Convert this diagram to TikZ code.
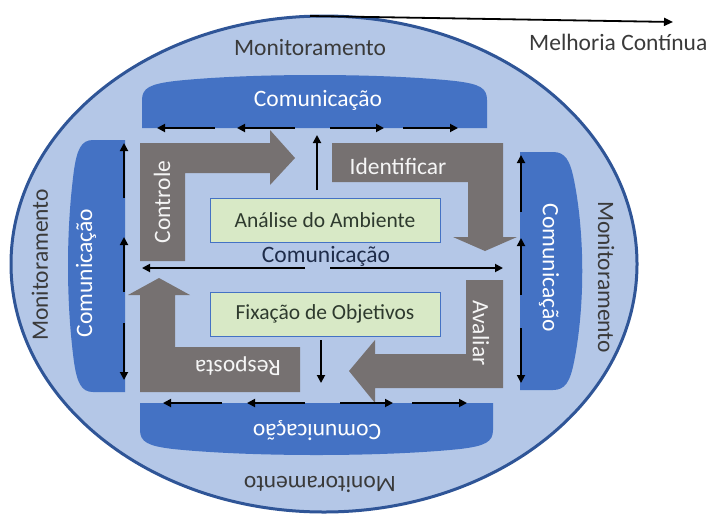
\documentclass[tikz,border=0pt]{standalone}
\usepackage{fontspec}
\setmainfont{Carlito}
\usetikzlibrary{arrows.meta}
\definecolor{ellfill}{HTML}{B4C7E7}
\definecolor{elldraw}{HTML}{2F5597}
\definecolor{commblue}{HTML}{4472C4}
\definecolor{garr}{HTML}{767171}
\definecolor{gfill}{HTML}{D8E9C6}
\definecolor{gtext}{HTML}{2E3A2E}
\definecolor{darktext}{HTML}{3A3A3A}
\definecolor{navytext}{HTML}{1F2D4A}
\newcommand\fsz{\fontsize{23.5}{26}\selectfont}
\newcommand\fszg{\fontsize{21.5}{24}\selectfont}
\tikzset{
  ell/.style={fill=ellfill, draw=elldraw, line width=3pt},
  commshape/.style={fill=commblue},
  grayarrow/.style={fill=garr},
  ar/.style={line width=1.8pt, -{Triangle[length=8pt,width=8pt]}},
  commtext/.style={text=white, font=\fsz},
  montext/.style={text=darktext, font=\fsz},
  graytext/.style={text=white!92!gray, font=\fsz},
  gbox/.style={fill=gfill, draw=commblue, line width=1pt, minimum width=230pt, minimum height=44pt, inner sep=0pt, text=gtext, font=\fszg},
}
\begin{document}
\begin{tikzpicture}[x=1pt,y=-1pt]
\useasboundingbox (0,0) rectangle (708,517);
% outer ellipse
\draw[ell] (324,264) ellipse [x radius=313, y radius=248];
% communication shapes
\fill[commshape] (142,128) -- (142,100) .. controls (142,88) and (150,84) .. (175,81) .. controls (250,73) and (380,73) .. (455,81) .. controls (480,84) and (487,88) .. (487,100) -- (487,128) -- cycle;
\fill[commshape] (140,403) -- (140,430) .. controls (140,442) and (148,446) .. (173,449) .. controls (250,457) and (383,457) .. (460,449) .. controls (485,446) and (493,442) .. (493,430) -- (493,403) -- cycle;
\fill[commshape] (125,140) -- (93,140) .. controls (81,140) and (77,150) .. (74,170) .. controls (66,230) and (66,302) .. (74,362) .. controls (77,382) and (81,392) .. (93,392) -- (125,392) -- cycle;
\fill[commshape] (520,152) -- (553,152) .. controls (565,152) and (570,160) .. (574,180) .. controls (585,235) and (585,307) .. (574,362) .. controls (570,382) and (565,390) .. (553,390) -- (520,390) -- cycle;
% labels
\node[commtext] (ctop) at (318,100) {Comunicação};
\node[commtext, rotate=180] (cbot) at (317,431) {Comunicação};
\node[commtext, rotate=90] (cleft) at (86,273) {Comunicação};
\node[commtext, rotate=-90] (cright) at (549,268) {Comunicação};
\node[montext] (mtop) at (310,47) {Monitoramento};
\node[montext, rotate=180] (mbot) at (320,484) {Monitoramento};
\node[montext, rotate=90] (mleft) at (40,265) {Monitoramento};
\node[montext, rotate=-90] (mright) at (606,277) {Monitoramento};
% gray arrows
\fill[grayarrow] (140,143) -- (270,143) -- (270,130) -- (295,158) -- (270,185) -- (270,173) -- (185,173) -- (185,261) -- (140,261) -- cycle;
\fill[grayarrow] (332,143) -- (503,143) -- (503,237) -- (517,237) -- (485,251) -- (453,237) -- (468,237) -- (468,182) -- (332,182) -- cycle;
\fill[grayarrow] (466,280) -- (503,280) -- (503,388) -- (375,388) -- (375,403) -- (349,371) -- (375,340) -- (375,354) -- (466,354) -- cycle;
\fill[grayarrow] (140,392) -- (140,295) -- (128,295) -- (159,278) -- (190,295) -- (175,295) -- (175,347) -- (300,347) -- (300,392) -- cycle;
\node[graytext, rotate=90] (controle) at (162,202) {Controle};
\node[graytext] (identificar) at (398,166) {Identificar};
\node[graytext, rotate=-90] (avaliar) at (481,333) {Avaliar};
\node[graytext, rotate=180] (resposta) at (238,366) {Resposta};
% green boxes
\node[gbox] (analise) at (325,220) {Análise do Ambiente};
\node[gbox] (fixacao) at (325,314) {Fixação de Objetivos};
\node[text=navytext, font=\fsz] (cmid) at (326,256) {Comunicação};
% coordinates for arrows
\coordinate (ml1) at (305,268); \coordinate (ml2) at (142,268);
\coordinate (mr1) at (330,268); \coordinate (mr2) at (503,268);
\coordinate (vu1) at (317,190); \coordinate (vu2) at (317,135);
\coordinate (vd1) at (321,340); \coordinate (vd2) at (321,383);
\draw[ar] (ml1) -- (ml2);
\draw[ar] (mr1) -- (mr2);
\draw[ar] (vu1) -- (vu2);
\draw[ar] (vd1) -- (vd2);
% top comm arrows
\coordinate (ta1) at (215,128); \coordinate (ta2) at (157,128);
\coordinate (tb1) at (295,128); \coordinate (tb2) at (237,128);
\coordinate (tc1) at (330,128); \coordinate (tc2) at (384,128);
\coordinate (td1) at (403,128); \coordinate (td2) at (458,128);
\draw[ar] (ta1) -- (ta2); \draw[ar] (tb1) -- (tb2);
\draw[ar] (tc1) -- (tc2); \draw[ar] (td1) -- (td2);
% bottom comm arrows
\coordinate (ba1) at (222,403); \coordinate (ba2) at (163,403);
\coordinate (bb1) at (305,403); \coordinate (bb2) at (247,403);
\coordinate (bc1) at (340,403); \coordinate (bc2) at (393,403);
\coordinate (bd1) at (412,403); \coordinate (bd2) at (467,403);
\draw[ar] (ba1) -- (ba2); \draw[ar] (bb1) -- (bb2);
\draw[ar] (bc1) -- (bc2); \draw[ar] (bd1) -- (bd2);
% left comm arrows
\coordinate (la1) at (124,198); \coordinate (la2) at (124,143);
\coordinate (lb1) at (124,292); \coordinate (lb2) at (124,237);
\coordinate (lc1) at (124,323); \coordinate (lc2) at (124,380);
\draw[ar] (la1) -- (la2); \draw[ar] (lb1) -- (lb2); \draw[ar] (lc1) -- (lc2);
% right comm arrows
\coordinate (ra1) at (521,212); \coordinate (ra2) at (521,155);
\coordinate (rb1) at (521,295); \coordinate (rb2) at (521,238);
\coordinate (rc1) at (521,328); \coordinate (rc2) at (521,383);
\draw[ar] (ra1) -- (ra2); \draw[ar] (rb1) -- (rb2); \draw[ar] (rc1) -- (rc2);
% continuous improvement
\coordinate (mc1) at (310,16); \coordinate (mc2) at (673,22);
\draw[line width=1.8pt, -{Triangle[length=9pt,width=8pt]}] (mc1) -- (mc2);
\node[text=darktext, font=\fsz, anchor=west, inner sep=0pt] (melhoria) at (529,42) {Melhoria Contínua};
\end{tikzpicture}
\end{document}
